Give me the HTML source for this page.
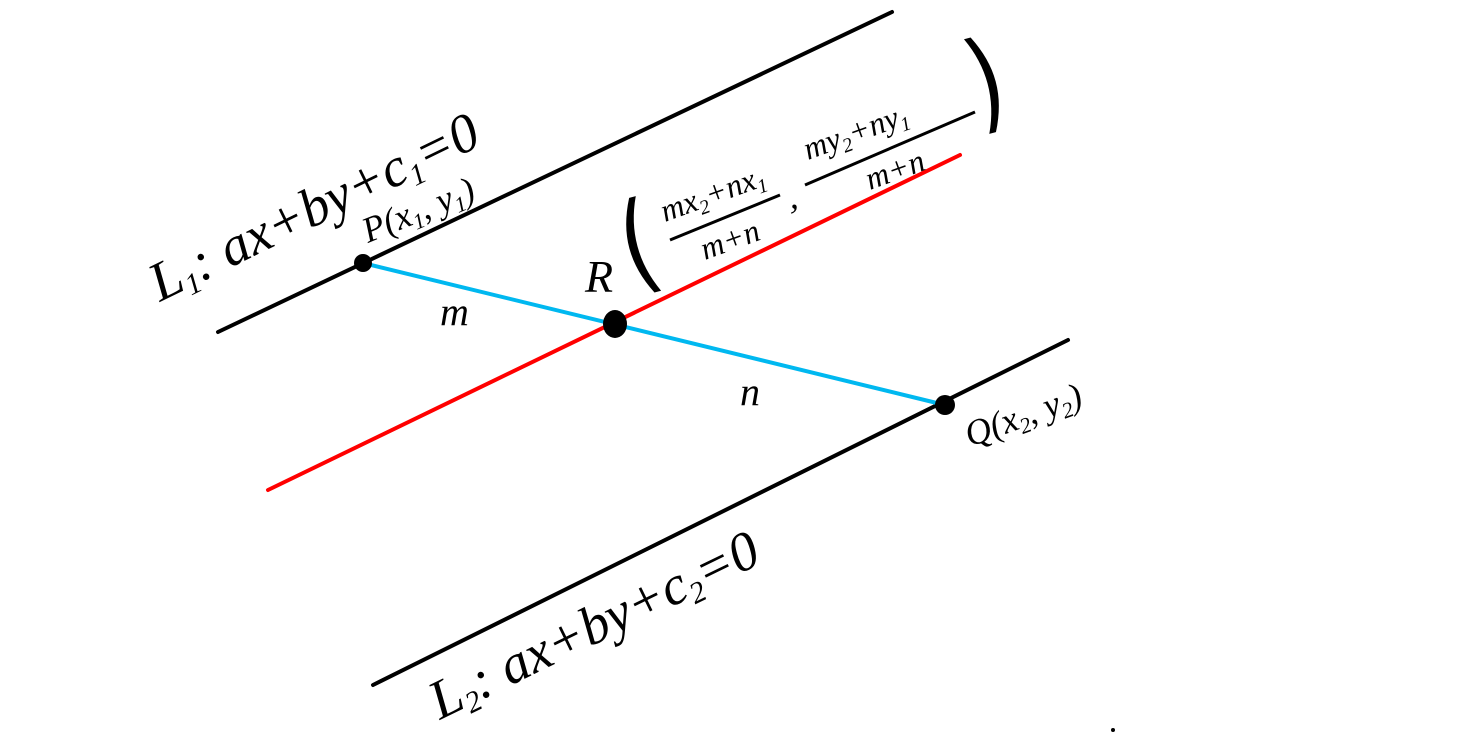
<!DOCTYPE html>
<html><head><meta charset="utf-8"><style>
html,body{margin:0;padding:0;background:#fff;}
svg{display:block;}
text{font-family:"Liberation Serif",serif;font-style:italic;fill:#000;}
</style></head><body>
<svg width="1461" height="738" viewBox="0 0 1461 738" xmlns="http://www.w3.org/2000/svg">
<line x1="218" y1="332" x2="892" y2="12" stroke="#000" stroke-width="4" stroke-linecap="round"/>
<line x1="268" y1="490" x2="960" y2="155" stroke="#f00" stroke-width="4" stroke-linecap="round"/>
<line x1="373" y1="685" x2="1068" y2="340" stroke="#000" stroke-width="4" stroke-linecap="round"/>
<line x1="363" y1="263" x2="945" y2="405" stroke="#00b8f0" stroke-width="4" stroke-linecap="round"/>
<circle cx="363" cy="263" r="9"/>
<ellipse cx="615" cy="324" rx="12" ry="14"/>
<circle cx="945" cy="405" r="10"/>
<circle cx="1113" cy="730" r="2"/>

<text x="160" y="302" font-size="55" transform="rotate(-26 160 302)">L<tspan font-size="30" dy="8">1</tspan><tspan dy="-8">: ax+by+c</tspan><tspan font-size="30" dy="8">1</tspan><tspan dy="-8">=0</tspan></text>
<text x="368" y="243" font-size="36" transform="rotate(-22 368 243)">P(x<tspan font-size="22" dy="6">1</tspan><tspan dy="-6">, y</tspan><tspan font-size="22" dy="6">1</tspan><tspan dy="-6">)</tspan></text>
<text x="585" y="292" font-size="46">R</text>
<text x="625" y="280" font-size="110" font-weight="normal" style="font-family:'DejaVu Sans',sans-serif;font-style:normal" transform="rotate(-15 640 240) scale(0.8 1) translate(150 0)">(</text>
<text x="665" y="222" font-size="32" transform="rotate(-20 665 222)">mx<tspan font-size="20" dy="6">2</tspan><tspan dy="-6">+nx</tspan><tspan font-size="20" dy="6">1</tspan></text>
<line x1="670" y1="240" x2="780" y2="195" stroke="#000" stroke-width="3"/>
<text x="705" y="260" font-size="32" transform="rotate(-20 705 260)">m+n</text>
<text x="790" y="208" font-size="36">,</text>
<text x="808" y="160" font-size="32" transform="rotate(-20 808 160)">my<tspan font-size="20" dy="6">2</tspan><tspan dy="-6">+ny</tspan><tspan font-size="20" dy="6">1</tspan></text>
<line x1="805" y1="185" x2="975" y2="112" stroke="#000" stroke-width="3"/>
<text x="870" y="190" font-size="32" transform="rotate(-20 870 190)">m+n</text>
<text x="965" y="120" font-size="110" style="font-family:'DejaVu Sans',sans-serif;font-style:normal" transform="rotate(-15 980 80) scale(0.8 1) translate(245 0)">)</text>
<text x="440" y="325" font-size="40">m</text>
<text x="740" y="405" font-size="40">n</text>
<text x="970" y="447" font-size="36" transform="rotate(-20 970 447)">Q(x<tspan font-size="22" dy="6">2</tspan><tspan dy="-6">, y</tspan><tspan font-size="22" dy="6">2</tspan><tspan dy="-6">)</tspan></text>
<text x="440" y="720" font-size="55" transform="rotate(-26 440 720)">L<tspan font-size="30" dy="8">2</tspan><tspan dy="-8">: ax+by+c</tspan><tspan font-size="30" dy="8">2</tspan><tspan dy="-8">=0</tspan></text>
</svg>
</body></html>
